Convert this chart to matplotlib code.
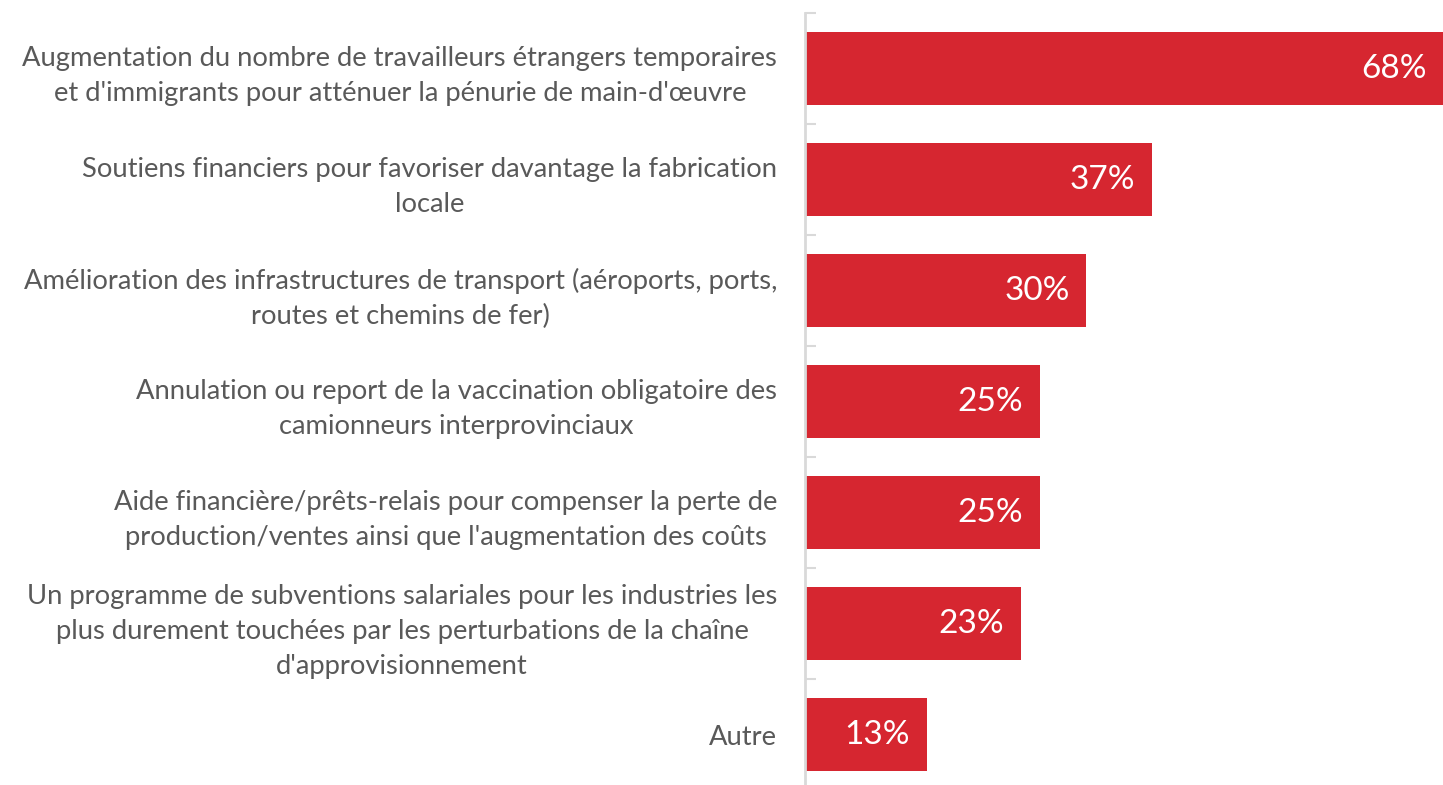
import matplotlib.pyplot as plt

categories = [
    "Augmentation du nombre de travailleurs étrangers temporaires\net d'immigrants pour atténuer la pénurie de main-d'œuvre",
    "Soutiens financiers pour favoriser davantage la fabrication\nlocale",
    "Amélioration des infrastructures de transport (aéroports, ports,\nroutes et chemins de fer)",
    "Annulation ou report de la vaccination obligatoire des\ncamionneurs interprovinciaux",
    "Aide financière/prêts-relais pour compenser la perte de\nproduction/ventes ainsi que l'augmentation des coûts",
    "Un programme de subventions salariales pour les industries les\nplus durement touchées par les perturbations de la chaîne\nd'approvisionnement",
    "Autre",
]
values = [68, 37, 30, 25, 25, 23, 13]

RED = '#d62630'
GREY = '#595959'

plt.rcParams['font.family'] = ['Lato', 'DejaVu Sans']

fig = plt.figure(figsize=(14.43, 7.85), dpi=100)
ax = fig.add_axes([805 / 1443, -5 / 785, 638 / 1443, 777 / 785])

y = list(range(len(values)))
ax.barh(y, values, height=0.65, color=RED)

for yi, v in zip(y, values):
    ax.annotate(f'{v}%', (v, yi), xytext=(-12, 0), textcoords='offset points',
                ha='right', va='center', color='white', fontsize=24)

ax.set_xlim(0, 68)
ax.set_ylim(6.5, -0.5)

# boundaries get the small tick marks, centers get the labels
ax.set_yticks([i - 0.5 for i in range(len(values) + 1)])
ax.set_yticklabels([])
ax.set_yticks(y, categories, minor=True)
ax.tick_params(axis='y', which='major', direction='in', length=8, width=1.5, color='#d9d9d9')
ax.tick_params(axis='y', which='minor', length=0, pad=20, labelsize=19.7, labelcolor=GREY)
for t in ax.get_yticklabels(minor=True):
    t.set_multialignment('center')
    t.set_linespacing(1.5)

ax.set_xticks([])
for s in ['top', 'right', 'bottom']:
    ax.spines[s].set_visible(False)
ax.spines['left'].set_color('#d9d9d9')
ax.spines['left'].set_linewidth(2)

fig.savefig('out.png', dpi=100)
